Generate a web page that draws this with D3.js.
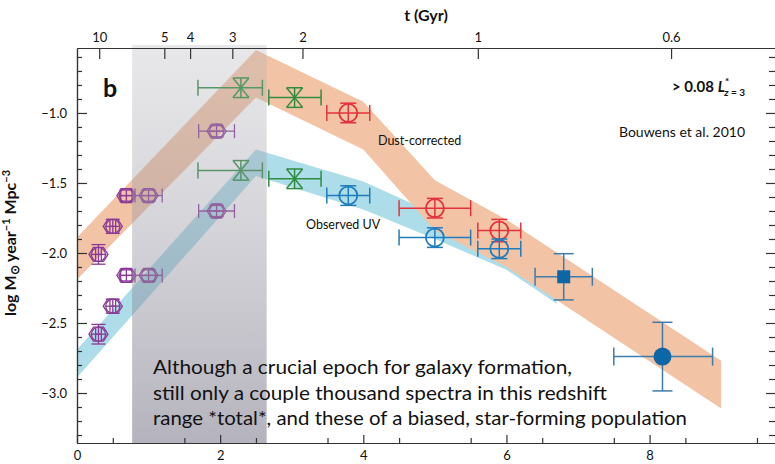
<!DOCTYPE html>
<html><head><meta charset="utf-8">
<script src="https://cdn.jsdelivr.net/npm/d3@7"></script>
<style>
html,body{margin:0;padding:0;background:#fff;}
svg{display:block;font-family:Lato,"Open Sans",sans-serif;}
</style></head>
<body><svg id="c" width="775" height="464"></svg>
<script>
// ---------- data ----------
const xTicks = [0, 2, 4, 6, 8];
const yTicks = [-3.0, -2.5, -2.0, -1.5, -1.0];
const topTickLabels = ["10", "5", "4", "3", "2", "1", "0.6"];
const topTickZ = [0.31, 1.22, 1.58, 2.17, 3.15, 5.6, 8.3];

// bands (z, upper, lower log SFRD)
const dustZ  = [0, 2.5, 4.0, 5.0, 6.0, 9.0];
const dustHi = [-1.89, -0.55, -0.92, -1.48, -1.76, -2.77];
const dustLo = [-2.19, -0.89, -1.26, -1.84, -2.10, -3.11];
const uvZ  = [0, 2.5, 4.0, 5.0, 6.0, 6.7];
const uvHi = [-2.69, -1.26, -1.49, -1.72, -1.93, -2.20];
const uvLo = [-2.89, -1.45, -1.69, -1.90, -2.12, -2.36];

// shaded redshift range
const shadeZ = [0.77, 2.65];

// points: z, value, x-err low, x-err high, y-err
const purpleDust = [
  [0.30, -2.01, 0.04, 0.04, 0.07],
  [0.50, -1.81, 0.04, 0.04, 0.05],
  [0.69, -1.59, 0.08, 0.08, 0.04],
  [1.00, -1.59, 0.19, 0.19, 0.04],
  [1.95, -1.13, 0.25, 0.25, 0.04]
];
const purpleUV = [
  [0.30, -2.58, 0.04, 0.04, 0.07],
  [0.50, -2.38, 0.04, 0.04, 0.05],
  [0.69, -2.16, 0.08, 0.08, 0.04],
  [1.00, -2.16, 0.19, 0.19, 0.04],
  [1.95, -1.70, 0.25, 0.25, 0.04]
];
const greenDust = [
  [2.29, -0.82, 0.60, 0.30, 0.07],
  [3.04, -0.89, 0.36, 0.37, 0.07]
];
const greenUV = [
  [2.29, -1.41, 0.60, 0.30, 0.07],
  [3.04, -1.47, 0.36, 0.37, 0.07]
];
const redDust = [
  [3.79, -1.00, 0.30, 0.30, 0.07],
  [5.00, -1.68, 0.50, 0.50, 0.07],
  [5.90, -1.84, 0.30, 0.30, 0.08]
];
const blueUV = [
  [3.79, -1.59, 0.30, 0.30, 0.07],
  [5.00, -1.89, 0.50, 0.50, 0.07],
  [5.90, -1.97, 0.30, 0.30, 0.07]
];
const blueSquare = [[6.80, -2.17, 0.40, 0.40, 0.165]];
const blueDot = [[8.18, -2.74, 0.68, 0.70, 0.245]];

const bodyLines = [
  "Although a crucial epoch for galaxy formation,",
  "still only a couple thousand spectra in this redshift",
  "range *total*, and these of a biased, star-forming population"
];

// ---------- drawing ----------
const svg = d3.select("#c");
const x = d3.scaleLinear().domain([0, 9.78]).range([77, 777]);
const y = d3.scaleLinear().domain([-3.357, -0.536]).range([443, 48]);

const defs = svg.append("defs");
const gr = defs.append("linearGradient").attr("id","shade").attr("x1",0).attr("y1",0).attr("x2",0).attr("y2",1);
gr.append("stop").attr("offset","0").attr("stop-color","rgb(178,178,186)").attr("stop-opacity",0.3);
gr.append("stop").attr("offset","1").attr("stop-color","rgb(122,120,138)").attr("stop-opacity",0.56);
defs.append("clipPath").attr("id","plot").append("rect")
  .attr("x",77).attr("y",48).attr("width",700).attr("height",395);

const plot = svg.append("g").attr("clip-path","url(#plot)");

function band(zs, hi, lo, color) {
  const pts = zs.map((z,i)=>[x(z), y(hi[i])]).concat(zs.map((z,i)=>[x(z), y(lo[i])]).reverse());
  plot.append("path").attr("d", d3.line()(pts) + "Z").attr("fill", color);
}
band(uvZ, uvHi, uvLo, "#acdde9");
band(dustZ, dustHi, dustLo, "#f2c3a5");

const pg = svg.append("g");
function errbars(d, color, capH, capW) {
  const [z, v, xl, xh, ye] = d;
  const g = pg.append("g").attr("stroke", color).attr("stroke-width", 1.5).attr("fill","none");
  const cx = x(z), cy = y(v);
  if (xl + xh > 0) {
    g.append("line").attr("x1", x(z - xl)).attr("x2", x(z + xh)).attr("y1", cy).attr("y2", cy);
    g.append("line").attr("x1", x(z - xl)).attr("x2", x(z - xl)).attr("y1", cy - capH).attr("y2", cy + capH);
    g.append("line").attr("x1", x(z + xh)).attr("x2", x(z + xh)).attr("y1", cy - capH).attr("y2", cy + capH);
  }
  g.append("line").attr("x1", cx).attr("x2", cx).attr("y1", y(v + ye)).attr("y2", y(v - ye));
  g.append("line").attr("x1", cx - capW).attr("x2", cx + capW).attr("y1", y(v + ye)).attr("y2", y(v + ye));
  g.append("line").attr("x1", cx - capW).attr("x2", cx + capW).attr("y1", y(v - ye)).attr("y2", y(v - ye));
  return g;
}
function hexPoint(d, color) {
  const g = errbars(d, color, 7, 7).attr("stroke-width", 1.3);
  const cx = x(d[0]), cy = y(d[1]);
  const hx = [[-9.5,0],[-5,-7],[5,-7],[9.5,0],[5,7],[-5,7]].map(p=>[cx+p[0], cy+p[1]]);
  g.append("path").attr("d", d3.line()(hx)+"Z");
  g.append("circle").attr("cx",cx).attr("cy",cy).attr("r",7);
  g.append("line").attr("x1",cx-8).attr("x2",cx+8).attr("y1",cy).attr("y2",cy);
}
function xPoint(d, color) {
  const g = errbars(d, color, 8, 8);
  const cx = x(d[0]), cy = y(d[1]), h = y(d[1]-d[4]) - cy;
  g.append("line").attr("x1",cx-8).attr("x2",cx+8).attr("y1",cy-h).attr("y2",cy+h);
  g.append("line").attr("x1",cx-8).attr("x2",cx+8).attr("y1",cy+h).attr("y2",cy-h);
}
function circPoint(d, color) {
  const g = errbars(d, color, 8, 8);
  g.append("circle").attr("cx", x(d[0])).attr("cy", y(d[1])).attr("r", 9).attr("stroke-width",1.8);
}
purpleDust.forEach(d=>hexPoint(d, "#8b3a98"));
purpleUV.forEach(d=>hexPoint(d, "#8b3a98"));
greenDust.forEach(d=>xPoint(d, "#2f8c40"));
greenUV.forEach(d=>xPoint(d, "#2f8c40"));
redDust.forEach(d=>circPoint(d, "#e2333d"));
blueUV.forEach(d=>circPoint(d, "#1f7dbe"));
blueSquare.forEach(d=>{
  errbars(d, "#3e7cab", 9, 10);
  pg.append("rect").attr("x", x(d[0])-6.5).attr("y", y(d[1])-6.5).attr("width",13).attr("height",13).attr("fill","#0d67a7");
});
blueDot.forEach(d=>{
  errbars(d, "#3e7cab", 9, 10);
  pg.append("circle").attr("cx", x(d[0])).attr("cy", y(d[1])).attr("r",9).attr("fill","#0d67a7");
});

// gray overlay
svg.append("rect").attr("x", x(shadeZ[0])).attr("width", x(shadeZ[1]) - x(shadeZ[0]))
  .attr("y", 45).attr("height", 443 - 45).attr("fill", "url(#shade)");

// ---------- axes ----------
const fmt = d => d3.format(".1f")(d).replace("-", "\u2212");
const axisStyle = g => { g.selectAll("path,line").attr("stroke","#333").attr("stroke-width",1.2);
  g.selectAll("text").attr("fill","#111").style("font-size","13px").style("font-family","Lato, sans-serif"); };

svg.append("g").attr("transform","translate(0,443)")
  .call(d3.axisBottom(x).tickValues(xTicks).tickFormat(d3.format("d")).tickSizeInner(-8).tickSizeOuter(0).tickPadding(8))
  .call(axisStyle);
svg.append("g").attr("transform","translate(0,443)")
  .call(d3.axisBottom(x).tickValues(d3.range(1, 20, 2).map(i=>i/2)).tickFormat("").tickSizeInner(-5).tickSizeOuter(0))
  .call(axisStyle);
svg.append("g").attr("transform","translate(0,48)")
  .call(d3.axisTop(x).tickValues(topTickZ).tickFormat((d,i)=>topTickLabels[i]).tickSizeInner(-11).tickSizeOuter(0).tickPadding(6))
  .call(axisStyle);

const minorY = d3.range(-33, -5).filter(i => i % 5 !== 0).map(i => i/10);
svg.append("g").attr("transform","translate(77,0)")
  .call(d3.axisLeft(y).tickValues(yTicks).tickFormat(fmt).tickSizeInner(-10).tickSizeOuter(0).tickPadding(10))
  .call(axisStyle);
svg.append("g").attr("transform","translate(77,0)")
  .call(d3.axisLeft(y).tickValues(minorY).tickFormat("").tickSizeInner(-5).tickSizeOuter(0))
  .call(axisStyle);
svg.append("g").attr("transform","translate(777,0)")
  .call(d3.axisRight(y).tickValues(yTicks).tickFormat("").tickSizeInner(-11).tickSizeOuter(0))
  .call(axisStyle);
svg.append("g").attr("transform","translate(777,0)")
  .call(d3.axisRight(y).tickValues(minorY).tickFormat("").tickSizeInner(-8).tickSizeOuter(0))
  .call(axisStyle);

// ---------- text ----------
svg.append("text").attr("x", 426).attr("y", 21).attr("text-anchor","middle")
  .style("font-size","16px").style("font-weight","bold").attr("fill","#111").text("t (Gyr)");

const yl = svg.append("text").attr("transform","translate(16,243) rotate(-90)").attr("text-anchor","middle")
  .style("font-size","16px").style("font-weight","bold").attr("fill","#111");
yl.append("tspan").text("log M");
yl.append("tspan").attr("dy", 3).style("font-size","12px").text("\u2299");
yl.append("tspan").attr("dy", -3).text(" year");
yl.append("tspan").attr("dy", -6).style("font-size","11px").text("\u22121");
yl.append("tspan").attr("dy", 6).text(" Mpc");
yl.append("tspan").attr("dy", -6).style("font-size","11px").text("\u22123");

svg.append("text").attr("x", 103).attr("y", 97).style("font-size","25px").style("font-weight","bold")
  .attr("fill","#111").text("b");

const lt = svg.append("text").attr("x", 745).attr("y", 92).attr("text-anchor","end")
  .style("font-size","15px").style("font-weight","bold").attr("fill","#111");
lt.append("tspan").text("> 0.08 ");
lt.append("tspan").style("font-style","italic").text("L");
lt.append("tspan").attr("dy", -7).style("font-size","10px").text("*");
lt.append("tspan").attr("dx", -5).attr("dy", 11).style("font-size","10px").style("font-style","italic").text("z");
lt.append("tspan").style("font-size","10px").text(" = 3");

svg.append("text").attr("x", 745).attr("y", 137).attr("text-anchor","end")
  .style("font-size","14px").attr("fill","#111").text("Bouwens et al. 2010");
svg.append("text").attr("x", 378).attr("y", 145).style("font-size","12.5px").attr("fill","#111").text("Dust-corrected");
svg.append("text").attr("x", 306).attr("y", 229).style("font-size","12.5px").attr("fill","#111").text("Observed UV");

const bodyW = [419, 454, 534];
bodyLines.forEach((t,i)=>{
  svg.append("text").attr("x", 153).attr("y", 374 + i*25.5).style("font-size","20px").attr("fill","#111")
    .attr("textLength", bodyW[i]).attr("lengthAdjust","spacingAndGlyphs").text(t);
});
</script></body></html>
